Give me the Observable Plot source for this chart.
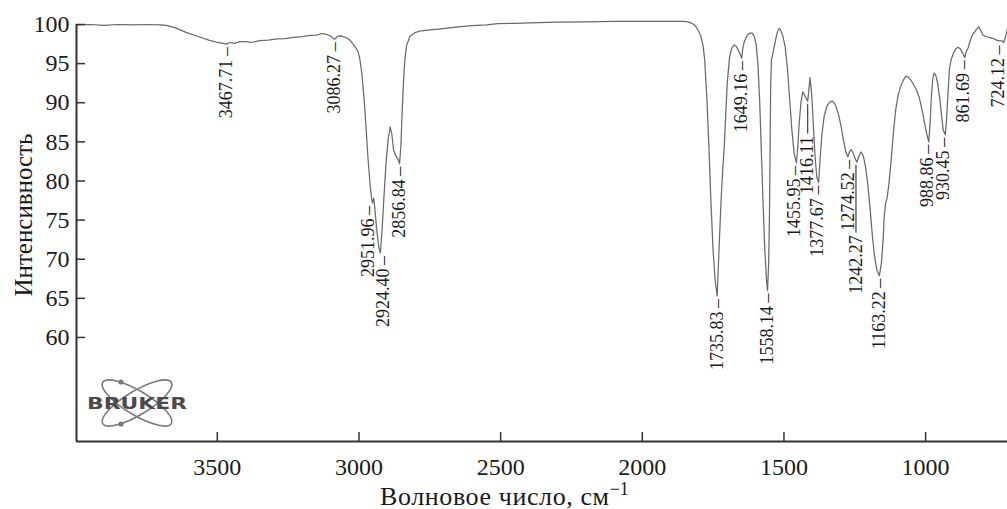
<!DOCTYPE html>
<html><head><meta charset="utf-8">
<script src="https://cdn.jsdelivr.net/npm/d3@7"></script>
<script src="https://cdn.jsdelivr.net/npm/@observablehq/plot@0.6"></script>
<style>body{margin:0;background:#fff} #chart svg{display:block}</style>
</head><body><div id="chart"></div>
<script>
// ---- data ----
const wavenumber = [3997,3950,3900,3850,3800,3750,3700,3680,3650,3610,3570,3530,3500,3480,3467.71,3455,3440,3420,3400,3380,3350,3320,3290,3260,3230,3200,3174,3150,3131,3115,3100,3086.27,3075,3065,3050,3035,3025,3015,3005,2998,2990,2982,2975,2968,2960,2954,2951.96,2948,2944,2938,2930,2924.40,2918,2911,2904,2897,2890,2884,2878,2870,2862,2856.84,2852,2848,2843,2838,2832,2820,2800,2780,2740,2711,2650,2600,2550,2511,2450,2400,2300,2200,2100,2000,1900,1854,1835,1822,1812,1802,1794,1786,1780,1772,1765,1758,1750,1742,1735.83,1729,1722,1716,1711,1700,1692,1684,1676,1668,1660,1654,1649.16,1645,1640,1630,1620,1612,1604,1598,1592,1586,1580,1574,1568,1562,1558.14,1554,1551,1549,1547,1544,1538,1532,1525,1518,1512,1504,1496,1488,1480,1472,1464,1455.95,1451,1446,1440,1434,1425,1416.11,1408,1402,1396,1390,1384,1377.67,1372,1366,1358,1348,1338,1328,1318,1308,1298,1290,1282,1274.52,1268,1262,1255,1248,1242.27,1236,1228,1220,1212,1204,1196,1188,1180,1172,1163.22,1156,1150,1146,1141,1136,1130,1122,1114,1106,1098,1090,1080,1070,1062,1052,1042,1032,1022,1012,1004,996,988.86,984,980,975,970,965,958,950,944,938,930.45,926,921,916,910,902,894,886,878,870,861.69,856,850,843,836,828,820,812,805,798,790,780,770,760,750,740,730,724.12,718,711];
const intensity  = [99.95,100.0,99.9,100.0,99.95,100.0,99.95,99.9,99.6,99.0,98.5,98.0,97.7,97.6,97.5,97.7,97.6,97.8,97.8,97.7,97.95,98.0,98.15,98.2,98.35,98.45,98.6,98.65,98.85,98.75,98.5,98.1,98.5,98.55,98.4,98.1,97.7,97.2,96.7,95.8,93.8,90.5,86.8,82.8,79.2,77.4,77.2,77.8,76.5,74.0,71.5,70.8,74.0,78.5,82.5,85.3,86.9,86.0,84.0,83.2,82.8,82.2,84.5,88.5,92.6,95.5,97.3,98.5,99.0,99.2,99.35,99.45,99.7,99.85,99.95,100.1,100.15,100.2,100.3,100.35,100.4,100.4,100.4,100.4,100.3,100.1,99.8,99.2,98.6,97.4,95.6,90.5,84.5,77.5,71.0,67.0,65.3,71.4,77.5,81.5,84.2,92.6,95.8,97.0,97.4,97.2,96.6,96.1,95.7,97.0,97.8,98.6,98.9,98.9,98.4,97.4,95.0,90.5,84.0,77.5,71.5,67.5,66.0,69.5,76.0,84.0,92.0,95.5,96.5,97.6,98.8,99.5,99.3,98.5,97.2,94.5,90.5,86.5,83.5,82.3,84.5,87.5,90.0,91.4,90.8,90.2,93.2,91.0,87.0,83.0,80.5,79.8,83.0,86.0,88.3,89.6,90.1,90.2,89.7,88.6,86.9,85.2,83.8,83.1,83.8,84.0,83.5,82.8,82.4,83.1,83.7,83.2,81.8,79.5,76.5,73.0,70.3,68.6,67.9,69.5,72.5,75.5,77.2,77.8,79.5,82.5,86.0,89.0,90.8,91.9,92.8,93.4,93.3,92.9,92.3,91.6,90.6,89.0,87.5,86.0,85.0,87.5,90.6,93.0,93.8,93.6,92.6,90.5,88.5,86.5,85.9,88.0,91.2,94.3,95.5,96.3,96.9,97.1,96.9,96.4,95.8,96.6,97.0,97.9,98.6,99.0,99.4,99.7,99.2,98.7,98.5,98.4,98.3,98.2,98.0,97.9,97.9,97.7,98.4,99.5];
const peakLabels = [3467.71,3086.27,2951.96,2924.40,2856.84,1735.83,1649.16,1558.14,1455.95,1416.11,1377.67,1274.52,1242.27,1163.22,988.86,930.45,861.69,724.12];
const xTicks = [3500,3000,2500,2000,1500,1000];
const yTicks = [60,65,70,75,80,85,90,95,100];
const xTitle = "Волновое число, см";
const xTitleSup = "−1";
const yTitle = "Интенсивность";
const logoText = "BRUKER";

// ---- build tables ----
const spectrum = wavenumber.map((v, i) => ({v, t: intensity[i]}));
const tAt = v => intensity[wavenumber.findIndex(w => Math.abs(w - v) < 1e-6)];
const peaks = peakLabels.map(v => ({v, t: tAt(v), s: v.toFixed(2)}));

// label placement tweaks (screen pixels)
const labelLayout = {
  "2951.96": {dx: -4}, "2924.40": {dx: 3},
  "1455.95": {dx: -2}, "1416.11": {leader: 30}, "1377.67": {dx: -1},
  "1242.27": {leader: 68, dx: -1}, "988.86": {dx: -2}, "930.45": {dx: -2},
  "861.69": {dx: -2}, "724.12": {dx: -6}
};

const X0 = 3997, X1 = 711, Y0 = 46.7, Y1 = 100;
const FONT = "'Liberation Serif','Times New Roman',serif";
const axisColor = "#333";
const labelFill = "#1a1a1a";

const marks = [
  Plot.line(spectrum, {x: "v", y: "t", stroke: "#6a6a6a", strokeWidth: 1.25}),
  Plot.ruleY([Y0], {stroke: axisColor, strokeWidth: 2}),
  Plot.ruleX([X0], {y1: Y0, y2: Y1, stroke: axisColor, strokeWidth: 2}),
  Plot.axisX(xTicks, {tickSize: -9, tickPadding: 25, fontSize: 24, tickFormat: d3.format("d"), stroke: axisColor, strokeWidth: 1.5, fill: "#1a1a1a", label: null}),
  Plot.axisY(yTicks, {tickSize: -9, tickPadding: 16, fontSize: 24, tickFormat: d3.format("d"), stroke: axisColor, strokeWidth: 1.5, fill: "#1a1a1a", label: null})
];
for (const p of peaks) {
  const L = labelLayout[p.s] || {};
  const dx = L.dx || 0;
  if (L.leader) {
    marks.push(Plot.ruleX([p], {x: "v", y1: "t", y2: "t", dx, insetTop: 3, insetBottom: -(L.leader + 3), stroke: labelFill, strokeWidth: 1}));
    marks.push(Plot.text([p], {x: "v", y: "t", text: "s", rotate: -90, textAnchor: "end", dx, dy: L.leader + 5, fontSize: 18, fill: labelFill}));
  } else {
    marks.push(Plot.text([p], {x: "v", y: "t", text: d => d.s + "\u2009\u2013", rotate: -90, textAnchor: "end", dx, dy: 3, fontSize: 18, fill: labelFill}));
  }
}

const chart = Plot.plot({
  width: 1007, height: 509,
  marginLeft: 76, marginRight: 0, marginTop: 24, marginBottom: 68,
  style: {fontFamily: FONT, background: "#fff", overflow: "visible"},
  x: {domain: [X0, X1], axis: null},
  y: {domain: [Y0, Y1], axis: null},
  marks
});
document.getElementById("chart").appendChild(chart);

// ---- titles and logo ----
const svg = d3.select(chart);
const xt = svg.append("text").attr("x", 380).attr("y", 505).attr("text-anchor", "start")
  .attr("font-family", FONT).attr("font-size", 26).attr("letter-spacing", 0.6).attr("fill", "#1a1a1a");
xt.append("tspan").text(xTitle);
xt.append("tspan").attr("dy", -10).attr("font-size", 18).attr("letter-spacing", 0).text(xTitleSup);
svg.append("text").attr("transform", "translate(32,215) rotate(-90)").attr("text-anchor", "middle")
  .attr("font-family", FONT).attr("font-size", 25).attr("fill", "#1a1a1a").text(yTitle);

const logo = svg.append("g").attr("transform", "translate(137,403)");
[31, -31].forEach(a => logo.append("ellipse").attr("rx", 40).attr("ry", 12).attr("transform", `rotate(${a})`)
  .attr("fill", "none").attr("stroke", "#7a7a7a").attr("stroke-width", 1.6));
logo.append("circle").attr("cx", -16).attr("cy", -21).attr("r", 2.6).attr("fill", "#7a7a7a");
logo.append("circle").attr("cx", -16).attr("cy", 21).attr("r", 2.6).attr("fill", "#7a7a7a");
logo.append("text").attr("x", 0).attr("y", 5.5).attr("text-anchor", "middle").attr("font-family", "'DejaVu Sans',sans-serif")
  .attr("font-weight", "bold").attr("font-size", 15).attr("fill", "#4a4a4a")
  .attr("textLength", 100).attr("lengthAdjust", "spacingAndGlyphs").text(logoText);
</script></body></html>
